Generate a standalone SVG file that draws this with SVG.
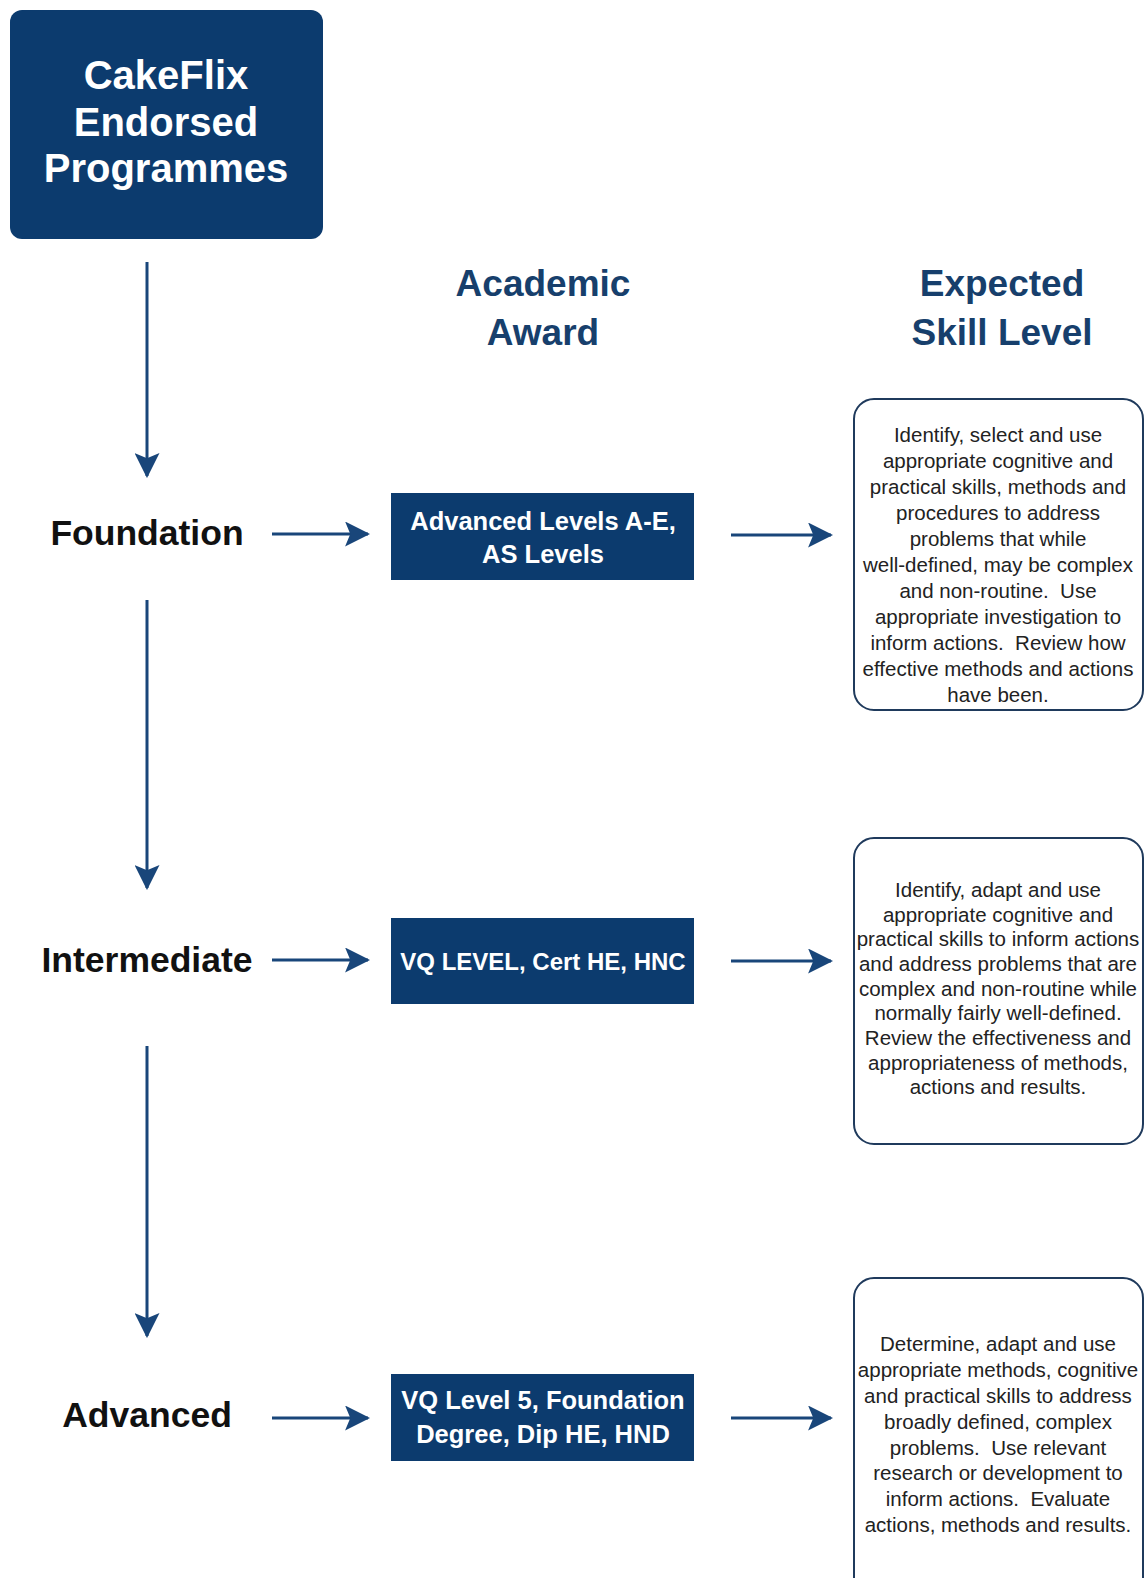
<svg xmlns="http://www.w3.org/2000/svg" width="1145" height="1578" viewBox="0 0 1145 1578">
<style>
  .navy { fill: #0c3b6e; }
  .title { font-family: "Liberation Sans", Arial, sans-serif; font-weight: bold; font-size: 40px; fill: #ffffff; text-anchor: middle; }
  .head { font-family: "Liberation Sans", Arial, sans-serif; font-weight: bold; font-size: 37px; fill: #173f6c; text-anchor: middle; }
  .level { font-family: "Liberation Sans", Arial, sans-serif; font-weight: bold; font-size: 35.5px; fill: #111111; text-anchor: middle; }
  .award { font-family: "Liberation Sans", Arial, sans-serif; font-weight: bold; font-size: 25.5px; fill: #ffffff; text-anchor: middle; }
  .award.small { font-size: 24px; }
  .skillbox { fill: #ffffff; stroke: #1f3a5c; stroke-width: 2; }
  .skill { font-family: "Liberation Sans", Arial, sans-serif; font-size: 20.5px; fill: #222222; text-anchor: middle; }
  .conn { stroke: #19467a; stroke-width: 3; fill: none; marker-end: url(#ah); }
</style>
<defs>
  <marker id="ah" viewBox="0 0 24 24" refX="22" refY="12" markerWidth="25" markerHeight="25" orient="auto" markerUnits="userSpaceOnUse">
    <path d="M0,0 L24,12 L0,24 L5,12 Z" fill="#19467a"/>
  </marker>
</defs>
<rect width="1145" height="1578" fill="#ffffff"/>

<g id="programmes">
  <rect class="navy" x="10" y="10" width="313" height="229" rx="12"/>
  <text class="title" x="166" y="89">CakeFlix</text>
  <text class="title" x="166" y="136">Endorsed</text>
  <text class="title" x="166" y="182">Programmes</text>
</g>

<g id="header-award">
  <text class="head" x="543" y="296">Academic</text>
  <text class="head" x="543" y="345">Award</text>
</g>
<g id="header-skill">
  <text class="head" x="1002" y="296">Expected</text>
  <text class="head" x="1002" y="345">Skill Level</text>
</g>

<g id="foundation">
  <text class="level" x="147" y="545">Foundation</text>
</g>
<g id="intermediate">
  <text class="level" x="147" y="972">Intermediate</text>
</g>
<g id="advanced">
  <text class="level" x="147" y="1427">Advanced</text>
</g>

<g id="award-foundation">
  <rect class="navy" x="391" y="493" width="303" height="87"/>
  <text class="award" x="543" y="530">Advanced Levels A-E,</text>
  <text class="award" x="543" y="563">AS Levels</text>
</g>
<g id="award-intermediate">
  <rect class="navy" x="391" y="918" width="303" height="86"/>
  <text class="award small" x="543" y="970">VQ LEVEL, Cert HE, HNC</text>
</g>
<g id="award-advanced">
  <rect class="navy" x="391" y="1374" width="303" height="87"/>
  <text class="award" x="543" y="1409">VQ Level 5, Foundation</text>
  <text class="award" x="543" y="1443">Degree, Dip HE, HND</text>
</g>

<g id="skill-foundation">
  <rect class="skillbox" x="854" y="399" width="289" height="311" rx="20"/>
  <text class="skill" x="998" y="442">Identify, select and use</text>
  <text class="skill" x="998" y="468">appropriate cognitive and</text>
  <text class="skill" x="998" y="494">practical skills, methods and</text>
  <text class="skill" x="998" y="520">procedures to address</text>
  <text class="skill" x="998" y="546">problems that while</text>
  <text class="skill" x="998" y="572">well-defined, may be complex</text>
  <text class="skill" x="998" y="598" xml:space="preserve">and non-routine.  Use</text>
  <text class="skill" x="998" y="624">appropriate investigation to</text>
  <text class="skill" x="998" y="650" xml:space="preserve">inform actions.  Review how</text>
  <text class="skill" x="998" y="676">effective methods and actions</text>
  <text class="skill" x="998" y="702">have been.</text>
</g>

<g id="skill-intermediate">
  <rect class="skillbox" x="854" y="838" width="289" height="306" rx="20"/>
  <text class="skill" x="998" y="897">Identify, adapt and use</text>
  <text class="skill" x="998" y="922">appropriate cognitive and</text>
  <text class="skill" x="998" y="946">practical skills to inform actions</text>
  <text class="skill" x="998" y="971">and address problems that are</text>
  <text class="skill" x="998" y="996">complex and non-routine while</text>
  <text class="skill" x="998" y="1020">normally fairly well-defined.</text>
  <text class="skill" x="998" y="1045">Review the effectiveness and</text>
  <text class="skill" x="998" y="1070">appropriateness of methods,</text>
  <text class="skill" x="998" y="1094">actions and results.</text>
</g>

<g id="skill-advanced">
  <rect class="skillbox" x="854" y="1278" width="289" height="320" rx="20"/>
  <text class="skill" x="998" y="1351">Determine, adapt and use</text>
  <text class="skill" x="998" y="1377">appropriate methods, cognitive</text>
  <text class="skill" x="998" y="1403">and practical skills to address</text>
  <text class="skill" x="998" y="1429">broadly defined, complex</text>
  <text class="skill" x="998" y="1455" xml:space="preserve">problems.  Use relevant</text>
  <text class="skill" x="998" y="1480">research or development to</text>
  <text class="skill" x="998" y="1506" xml:space="preserve">inform actions.  Evaluate</text>
  <text class="skill" x="998" y="1532">actions, methods and results.</text>
</g>

<g id="connectors">
  <line class="conn" x1="147" y1="262" x2="147" y2="476"/>
  <line class="conn" x1="147" y1="600" x2="147" y2="888"/>
  <line class="conn" x1="147" y1="1046" x2="147" y2="1336"/>
  <line class="conn" x1="272" y1="534" x2="368" y2="534"/>
  <line class="conn" x1="272" y1="960" x2="368" y2="960"/>
  <line class="conn" x1="272" y1="1418" x2="368" y2="1418"/>
  <line class="conn" x1="731" y1="535" x2="831" y2="535"/>
  <line class="conn" x1="731" y1="961" x2="831" y2="961"/>
  <line class="conn" x1="731" y1="1418" x2="831" y2="1418"/>
</g>
</svg>
